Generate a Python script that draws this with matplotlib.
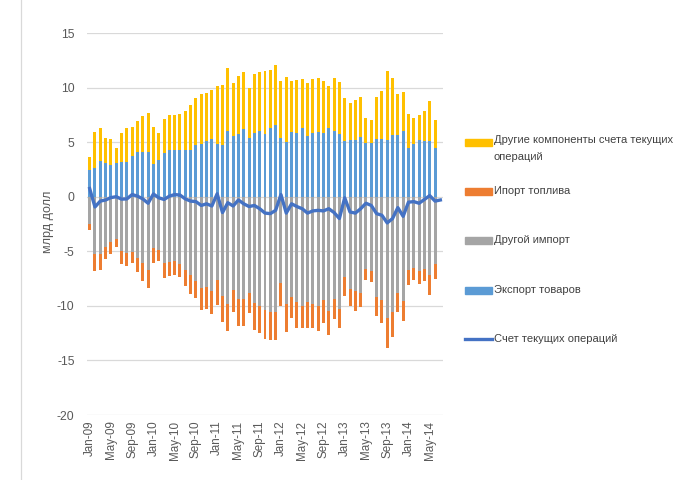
import numpy as np
import pandas as pd
import matplotlib
matplotlib.use("Agg")
import matplotlib.pyplot as plt
from matplotlib.patches import Rectangle
from matplotlib.lines import Line2D

# месяцы: Jan-09 ... Jul-14 (последний месяц только для линии)
months = pd.date_range("2009-01-01", periods=67, freq="MS").strftime("%b-%y").tolist()

# экспорт товаров (синий)
export = [2.47, 2.65, 3.23, 3.08, 2.93, 3.08, 3.2, 3.2, 3.74, 4.13, 4.1, 4.13,
          2.99, 3.38, 3.96, 4.26, 4.26, 4.28, 4.26, 4.26, 4.74, 4.8, 5.1, 5.26,
          4.86, 4.71, 6.06, 5.6, 5.75, 6.2, 5.34, 5.86, 6.01, 5.77, 6.31, 6.55,
          5.34, 5.0, 5.95, 5.86, 6.31, 5.55, 5.86, 5.92, 5.85, 6.31, 6.0, 5.75,
          5.1, 5.2, 5.16, 5.5, 4.95, 4.95, 5.3, 5.3, 5.16, 5.7, 5.7, 6.0,
          4.44, 4.8, 5.16, 5.1, 5.1, 4.44]

# другие компоненты счета текущих операций (жёлтый)
other_comp = [1.21, 3.27, 3.08, 2.26, 2.32, 1.35, 2.66, 3.11, 2.63, 2.79, 3.27, 3.54,
              3.37, 2.42, 3.2, 3.2, 3.2, 3.33, 3.62, 4.1, 4.35, 4.59, 4.38, 4.52,
              5.32, 5.53, 5.74, 4.8, 5.35, 5.2, 4.66, 5.34, 5.39, 5.73, 5.29, 5.55,
              5.26, 6.0, 4.65, 4.84, 4.49, 4.85, 4.94, 4.98, 4.75, 3.79, 4.9, 4.75,
              3.9, 3.4, 3.74, 3.6, 2.25, 2.12, 3.8, 4.4, 6.34, 5.2, 3.7, 3.6,
              3.16, 2.4, 2.3, 2.75, 3.63, 2.63]

# другой импорт (серый)
other_imp = [-2.51, -5.23, -5.23, -4.62, -4.14, -3.84, -4.98, -5.17, -5.02, -5.62, -6.1, -6.68,
             -4.71, -4.86, -6.07, -6.01, -5.92, -6.14, -6.68, -7.13, -7.73, -8.35, -8.25, -8.65,
             -7.64, -9.1, -9.8, -8.58, -9.4, -9.34, -8.8, -9.7, -10.0, -10.4, -10.55, -10.6,
             -7.89, -9.8, -9.15, -9.64, -10.0, -9.64, -9.8, -10.0, -9.5, -10.46, -9.34, -10.3,
             -7.38, -8.49, -8.64, -8.79, -6.62, -6.83, -9.16, -9.5, -11.1, -10.55, -8.79, -9.55,
             -6.68, -6.55, -6.83, -6.6, -7.15, -6.14]

# импорт топлива (оранжевый)
fuel_imp = [-0.57, -1.6, -1.45, -1.06, -1.09, -0.76, -1.16, -1.15, -1.06, -1.3, -1.64, -1.67,
            -1.37, -1.07, -1.36, -1.27, -1.21, -1.2, -1.51, -1.77, -1.51, -2.05, -2.0, -2.11,
            -2.3, -2.4, -2.5, -1.97, -2.4, -2.46, -1.87, -2.5, -2.5, -2.6, -2.6, -2.55,
            -2.11, -2.6, -1.95, -2.36, -2.0, -2.36, -2.2, -2.27, -2.1, -2.24, -1.86, -1.76,
            -1.72, -1.51, -1.82, -1.36, -0.98, -0.95, -1.74, -2.1, -2.8, -2.32, -1.76, -1.81,
            -1.45, -1.05, -1.21, -1.13, -1.85, -1.38]

# счет текущих операций (линия)
current_acc = [0.75, -0.94, -0.4, -0.3, -0.08, 0.0, -0.22, -0.2, 0.2, 0.05, -0.2, -0.6,
               0.25, -0.1, -0.25, 0.05, 0.2, 0.15, -0.2, -0.4, -0.45, -0.8, -0.65, -0.85,
               0.27, -1.45, -0.55, -0.85, -0.3, -0.65, -0.9, -0.8, -1.1, -1.5, -1.55, -1.25,
               0.2, -1.5, -0.65, -0.9, -1.1, -1.5, -1.3, -1.25, -1.3, -1.1, -1.45, -2.0,
               -0.1, -1.4, -1.5, -1.1, -0.6, -0.8, -1.55, -1.7, -2.4, -2.0, -1.0, -1.8,
               -0.5, -0.45, -0.6, -0.25, 0.1, -0.4, -0.3]

labels = ["Другие компоненты счета текущих\nопераций", "Ипорт топлива",
          "Другой импорт", "Экспорт товаров", "Счет текущих операций"]
c_yel, c_ora, c_gry, c_blu, c_line = "#FFC000", "#ED7D31", "#A5A5A5", "#5B9BD5", "#4472C4"

plt.rcParams["font.family"] = ["Liberation Sans", "DejaVu Sans"]
plt.rcParams["axes.unicode_minus"] = False

W, H = 675, 480
fig = plt.figure(figsize=(W / 100, H / 100), dpi=100)
ax = fig.add_axes([87 / W, 1 - 415 / H, (443 - 87) / W, (415 - 33) / H])

xb = np.arange(len(export))
xl = np.arange(len(current_acc))
bw = 0.56

ax.bar(xb, export, bw, color=c_blu, zorder=2)
ax.bar(xb, other_comp, bw, bottom=export, color=c_yel, zorder=2)
ax.bar(xb, other_imp, bw, color=c_gry, zorder=2)
ax.bar(xb, fuel_imp, bw, bottom=other_imp, color=c_ora, zorder=2)
ax.plot(xl, current_acc, color=c_line, lw=2.4, zorder=3, solid_joinstyle="round")

ax.set_xlim(-0.5, len(months) - 0.5)
ax.set_ylim(-20, 15)
ax.set_yticks(np.arange(-20, 16, 5))
ax.yaxis.grid(True, color="#D9D9D9", lw=0.9, zorder=0)
ax.set_axisbelow(True)
for s in ax.spines.values():
    s.set_visible(False)
ax.tick_params(length=0, labelsize=8.8, colors="#595959")
ax.tick_params(axis="y", pad=9)
ax.tick_params(axis="x", pad=4)
ax.set_xticks(xl[::4])
ax.set_xticklabels(months[::4], rotation=90, fontsize=8.4)
ax.set_ylabel("млрд долл", fontsize=9, color="#595959")
ax.yaxis.set_label_coords((54 - 87) / (443 - 87), 0.505)

# рамка области диаграммы слева
fig.lines.append(Line2D([21 / W] * 2, [0, 1], transform=fig.transFigure,
                        color="#D9D9D9", lw=0.9))

# легенда справа
items = [(142.5, "patch", c_yel), (191, "patch", c_ora), (240, "patch", c_gry),
         (290, "patch", c_blu), (339, "line", c_line)]
for (yc, kind, col), lab in zip(items, labels):
    if kind == "patch":
        fig.patches.append(Rectangle((465 / W, 1 - (yc + 3.5) / H), 27 / W, 7 / H,
                                     transform=fig.transFigure, color=col))
    else:
        fig.lines.append(Line2D([465 / W, 492 / W], [1 - yc / H] * 2,
                                transform=fig.transFigure, color=col, lw=2.4))
    two = "\n" in lab
    ty = 1 - (yc - 7.5) / H if two else 1 - yc / H
    fig.text(494 / W, ty, lab, fontsize=8.0, color="#404040",
             va="top" if two else "center", ha="left", linespacing=1.85)

fig.savefig("out.png", dpi=100)
